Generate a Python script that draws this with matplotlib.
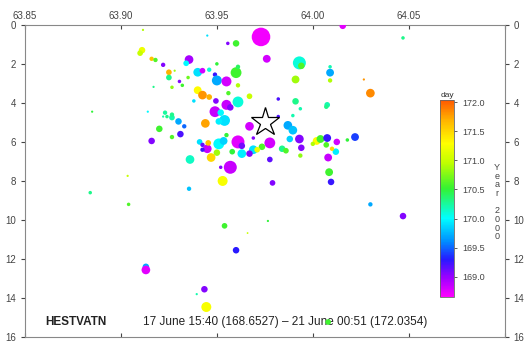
import matplotlib
matplotlib.use("Agg")
import matplotlib.pyplot as plt
import numpy as np
from matplotlib.colors import LinearSegmentedColormap, Normalize

plt.rcParams['font.family'] = ['Liberation Sans', 'DejaVu Sans']

# epicentre longitude, depth (km), origin time (day of year 2000), magnitude
lon = [63.973, 64.0156, 63.960, 63.9557, 63.945, 64.047, 63.9115, 63.976, 63.993, 63.994,
       63.911, 63.910, 63.916, 63.918, 63.922, 63.9355, 63.934, 63.940, 63.9425, 63.925,
       63.925, 63.949, 63.950, 63.955, 63.960, 63.961, 63.961, 63.950, 63.991, 64.009,
       64.009, 64.009, 64.030, 64.0266, 63.946, 63.940, 63.9425, 63.946, 63.9495, 63.955,
       63.961, 63.967, 63.982, 63.991, 64.0075, 63.9305, 63.932, 63.9266, 63.935, 63.956,
       63.949, 63.952, 63.957, 63.954, 63.951, 63.944, 63.931, 63.930, 63.9266, 63.924,
       63.920, 63.9266, 63.916, 63.967, 63.961, 63.963, 63.951, 63.9535, 63.945, 63.947,
       63.950, 63.963, 63.936, 63.9425, 63.957, 63.952, 63.953, 63.941, 63.955, 63.958,
       63.987, 63.9896, 63.982, 63.9896, 63.993, 63.988, 63.9776, 63.969, 63.967, 63.9735,
       63.971, 63.969, 63.9776, 63.984, 63.986, 63.994, 63.9935, 64.002, 64.004, 64.0075,
       64.007, 64.0125, 64.012, 64.008, 64.0085, 64.0095, 64.022, 63.979, 63.9935, 64.007,
       64.000, 64.010, 64.018, 63.885, 63.914, 63.9035, 63.884, 63.904, 63.913, 63.913,
       63.954, 63.960, 63.9766, 63.966, 63.9435, 63.9395, 63.9445, 64.008, 64.030, 64.047,
       63.928, 63.917, 63.938, 63.922, 63.923, 63.9266, 63.9355, 63.9425, 63.9455, 63.933]
depth = [0.62, 0.05, 0.95, 0.95, 0.55, 0.67, 0.26, 1.74, 1.95, 2.10,
         1.30, 1.45, 1.74, 1.80, 2.05, 1.78, 1.97, 2.43, 2.35, 2.43,
         2.70, 2.55, 2.85, 2.90, 2.45, 2.15, 3.10, 2.00, 2.80, 2.45,
         2.15, 2.85, 3.50, 2.80, 2.30, 3.35, 3.60, 3.70, 3.90, 4.10,
         3.95, 3.66, 3.80, 3.92, 4.10, 2.90, 3.10, 3.20, 2.70, 3.50,
         4.45, 4.50, 4.23, 4.90, 4.95, 5.05, 5.60, 4.95, 4.75, 4.70,
         5.33, 5.75, 5.95, 5.20, 6.00, 6.20, 6.10, 5.95, 6.35, 6.80,
         6.55, 6.60, 6.90, 6.40, 7.30, 7.30, 8.00, 6.00, 5.65, 6.50,
         5.15, 5.40, 4.70, 4.65, 5.85, 5.85, 6.05, 6.40, 6.60, 6.25,
         6.40, 5.80, 6.90, 6.35, 6.45, 6.30, 6.70, 5.95, 5.85, 5.80,
         6.15, 6.00, 6.50, 6.80, 7.55, 8.05, 5.75, 8.10, 4.30, 4.20,
         6.10, 6.35, 5.90, 4.45, 4.45, 7.74, 8.60, 9.20, 12.40, 12.56,
         10.30, 11.55, 10.05, 10.67, 13.55, 13.80, 14.46, 15.23, 9.20, 9.80,
         2.35, 3.18, 3.90, 4.70, 4.50, 4.60, 8.40, 6.15, 6.05, 5.20]
day = [168.70, 168.75, 170.55, 169.05, 169.90, 170.30, 170.90, 168.80, 170.10, 170.60,
       171.20, 171.00, 171.60, 170.60, 169.05, 168.95, 170.00, 169.90, 168.80, 171.70,
       170.30, 169.25, 169.70, 168.80, 170.55, 170.40, 170.90, 170.50, 170.85, 169.70,
       170.20, 170.90, 171.85, 171.80, 170.10, 171.30, 171.80, 171.70, 169.05, 168.85,
       170.10, 171.00, 169.20, 170.30, 170.20, 169.05, 170.55, 170.80, 170.70, 170.60,
       168.85, 170.00, 169.05, 169.90, 169.95, 171.75, 169.20, 169.70, 170.20, 170.30,
       170.55, 170.60, 169.05, 168.80, 168.75, 169.10, 170.00, 169.85, 168.85, 171.50,
       170.85, 169.95, 170.15, 169.25, 168.85, 169.05, 171.25, 169.90, 170.50, 170.50,
       169.70, 169.80, 169.20, 170.20, 169.05, 169.85, 168.80, 169.90, 169.05, 170.60,
       171.20, 169.05, 169.15, 170.30, 170.60, 169.05, 170.80, 171.30, 170.55, 169.25,
       170.60, 168.80, 169.95, 168.85, 170.55, 169.25, 169.40, 169.05, 170.20, 170.30,
       170.90, 171.50, 170.50, 170.50, 170.00, 171.00, 170.30, 170.60, 169.70, 168.75,
       170.55, 169.30, 170.50, 171.00, 169.05, 170.20, 171.25, 170.55, 169.70, 169.05,
       170.85, 170.30, 169.90, 170.20, 170.25, 170.30, 169.80, 169.15, 171.60, 169.50]
mag = [3.9, 1.1, 1.1, 0.4, 0.1, 0.4, 0.1, 1.4, 2.6, 1.1,
       1.1, 0.9, 0.6, 0.6, 0.6, 1.6, 0.9, 1.6, 0.9, 0.9,
       0.9, 0.6, 1.9, 1.9, 2.1, 0.6, 0.6, 0.4, 1.4, 1.4,
       0.4, 0.6, 1.6, 0.1, 0.6, 1.4, 1.6, 0.9, 0.9, 1.9,
       2.1, 0.9, 0.4, 1.1, 0.9, 0.4, 0.4, 0.4, 0.4, 0.6,
       2.1, 1.1, 1.1, 2.1, 1.1, 1.6, 1.1, 1.1, 0.9, 0.4,
       1.1, 0.6, 1.1, 1.6, 2.6, 1.1, 2.1, 1.4, 1.6, 1.6,
       1.1, 1.6, 1.6, 0.6, 2.6, 0.4, 1.9, 0.9, 0.6, 0.9,
       1.6, 1.6, 0.4, 0.4, 1.6, 1.1, 2.1, 1.6, 1.1, 1.1,
       0.9, 0.4, 0.9, 1.1, 0.9, 1.1, 0.6, 1.4, 1.4, 1.4,
       0.9, 1.1, 1.1, 1.4, 1.4, 1.1, 1.4, 0.9, 0.4, 0.6,
       0.6, 0.6, 0.4, 0.1, 0.1, 0.1, 0.4, 0.4, 1.1, 1.6,
       0.9, 1.1, 0.1, 0.0, 1.1, 0.1, 1.9, 0.9, 0.6, 1.1,
       0.1, 0.1, 0.4, 0.1, 0.6, 0.6, 0.6, 0.6, 0.9, 0.6]

main_shock = (63.9752, 5.0)
t_start, t_end = 168.6527, 172.0354
cbar_ticks = [169.0, 169.5, 170.0, 170.5, 171.0, 171.5, 172.0]

rainbow = LinearSegmentedColormap.from_list("day_rainbow", [
    (0.00, (1.00, 0.00, 1.00)),
    (0.10, (0.60, 0.00, 1.00)),
    (0.19, (0.15, 0.10, 1.00)),
    (0.28, (0.00, 0.55, 1.00)),
    (0.40, (0.00, 1.00, 1.00)),
    (0.55, (0.20, 0.95, 0.20)),
    (0.68, (0.75, 1.00, 0.00)),
    (0.78, (1.00, 1.00, 0.00)),
    (0.90, (1.00, 0.70, 0.00)),
    (1.00, (1.00, 0.35, 0.00)),
])
norm = Normalize(vmin=t_start, vmax=t_end)

fig = plt.figure(figsize=(5.26, 3.45), dpi=100)
ax = fig.add_axes([0.0475, 0.023, 0.912, 0.905])

# circle radius in pixels grows with magnitude
radius_px = 0.9 + 2.15 * np.array(mag)
sizes = (2 * radius_px * 0.72) ** 2
ax.scatter(lon, depth, c=day, cmap=rainbow, norm=norm, s=sizes,
           linewidths=0, zorder=3)

ax.plot(*main_shock, marker='*', markersize=21, markerfacecolor='white',
        markeredgecolor='black', markeredgewidth=0.9, zorder=5)

ax.set_xlim(63.85, 64.10)
ax.set_ylim(16, 0)
ax.set_xticks([63.85, 63.90, 63.95, 64.00, 64.05, 64.10])
ax.set_xticklabels(['63.85', '63.90', '63.95', '64.00', '64.05', ''])
ax.set_yticks(range(0, 17, 2))
ax.tick_params(axis='x', top=True, labeltop=True, bottom=True, labelbottom=False,
               direction='in', length=3, labelsize=7, colors='#444444', pad=3)
ax.tick_params(axis='y', left=True, right=True, labelright=True,
               direction='out', length=3, labelsize=7, colors='#444444')
for sp in ax.spines.values():
    sp.set_color('#888888')
    sp.set_linewidth(0.8)

ax.text(63.8604, 15.25, 'HESTVATN', fontsize=8.5, fontweight='bold',
        color='#222222', va='center')
ax.text(63.9115, 15.25, '17 June 15:40 (168.6527) \u2013 21 June 00:51 (172.0354)',
        fontsize=8.5, color='#222222', va='center', zorder=2)

# colour scale for origin time
cax = fig.add_axes([0.837, 0.139, 0.027, 0.571])
sm = plt.cm.ScalarMappable(norm=norm, cmap=rainbow)
cb = fig.colorbar(sm, cax=cax, ticks=cbar_ticks)
cb.ax.set_yticklabels([f'{t:.1f}' for t in cbar_ticks])
cb.ax.tick_params(labelsize=6.5, colors='#444444', length=2.5, width=0.6)
cb.outline.set_edgecolor('#666666')
cb.outline.set_linewidth(0.6)
fig.text(0.850, 0.714, 'day', fontsize=6, color='#333333', ha='center', va='bottom')
fig.text(0.945, 0.414, '\n'.join('Year 2000'), fontsize=6.5, color='#444444',
         ha='center', va='center', linespacing=0.95)

fig.savefig('out.png', dpi=100)
